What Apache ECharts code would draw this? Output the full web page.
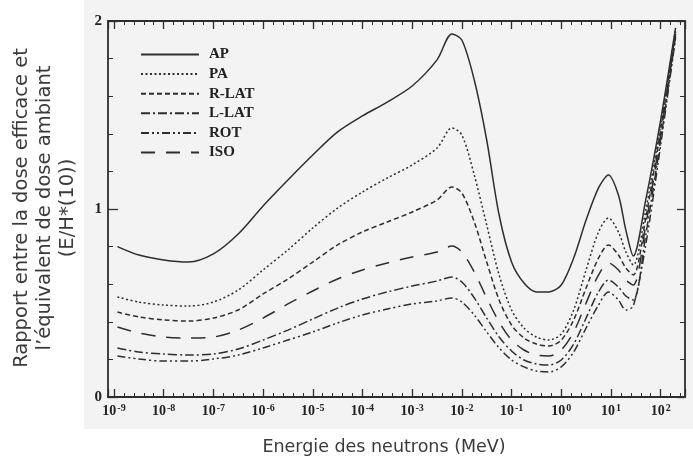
<!DOCTYPE html>
<html><head><meta charset="utf-8">
<script src="https://cdn.jsdelivr.net/npm/echarts@6/dist/echarts.min.js"></script>
<style>html,body{margin:0;padding:0;background:#fff}#c{width:693px;height:461px}</style>
</head><body><div id="c"></div>
<script>
// Energy of neutrons, as log10(E / MeV)
const log10Energy = [-8.93,-8.5,-8,-7.5,-7,-6.5,-6,-5.5,-5,-4.5,-4,-3.5,-3,-2.5,-2.2,-2,-1.75,-1.5,-1.25,-1,-0.75,-0.5,-0.25,0,0.25,0.5,0.75,0.95,1.15,1.3,1.45,1.7,2.0,2.3];
// E/H*(10) for each irradiation geometry
const AP    = [0.80,0.755,0.729,0.718,0.761,0.867,1.016,1.154,1.287,1.410,1.495,1.569,1.654,1.793,1.931,1.899,1.686,1.367,0.968,0.718,0.606,0.559,0.559,0.596,0.739,0.941,1.112,1.181,1.074,0.888,0.750,1.048,1.473,1.963];
const PA    = [0.532,0.505,0.489,0.484,0.505,0.569,0.676,0.782,0.899,1.005,1.090,1.165,1.234,1.324,1.431,1.394,1.181,0.915,0.649,0.463,0.367,0.319,0.303,0.335,0.463,0.676,0.878,0.952,0.878,0.771,0.702,0.995,1.447,1.952];
const RLAT  = [0.452,0.426,0.410,0.404,0.420,0.463,0.548,0.628,0.718,0.809,0.878,0.931,0.984,1.048,1.117,1.085,0.931,0.718,0.516,0.383,0.314,0.282,0.271,0.303,0.410,0.580,0.739,0.809,0.755,0.686,0.649,0.952,1.420,1.941];
const LLAT  = [0.261,0.239,0.229,0.223,0.229,0.255,0.303,0.356,0.415,0.473,0.521,0.559,0.590,0.617,0.638,0.612,0.527,0.420,0.319,0.245,0.197,0.176,0.170,0.197,0.282,0.420,0.559,0.622,0.585,0.537,0.516,0.862,1.367,1.920];
const ROT   = [0.218,0.202,0.191,0.191,0.202,0.223,0.261,0.303,0.346,0.394,0.436,0.468,0.495,0.511,0.527,0.505,0.436,0.346,0.261,0.197,0.160,0.138,0.133,0.160,0.239,0.367,0.489,0.559,0.516,0.463,0.484,0.809,1.340,1.910];
const ISO   = [0.372,0.340,0.319,0.314,0.319,0.356,0.420,0.495,0.564,0.628,0.676,0.713,0.745,0.771,0.803,0.771,0.665,0.527,0.399,0.303,0.250,0.223,0.218,0.250,0.346,0.500,0.649,0.713,0.676,0.622,0.596,0.915,1.394,1.931];
const seriesNames = ['AP','PA','R-LAT','L-LAT','ROT','ISO'];
const xDecadeExponents = [-9,-8,-7,-6,-5,-4,-3,-2,-1,0,1,2];
const yTickLabels = ['0','1','2'];
const xTitle = 'Energie des neutrons (MeV)';
const yTitle = 'Rapport entre la dose efficace et\nl\u2019\u00e9quivalent de dose ambiant\n(E/H*(10))';

const INK = '#2e2e2e';
const dashes = {
  'AP': 'solid',
  'PA': [2, 2.5],
  'R-LAT': [5, 3],
  'L-LAT': [9, 3, 2, 3],
  'ROT': [8, 3, 2, 3, 2, 3],
  'ISO': [14, 11]
};
const valuesByName = {'AP':AP,'PA':PA,'R-LAT':RLAT,'L-LAT':LLAT,'ROT':ROT,'ISO':ISO};

const X_MIN = -9.12, X_MAX = 2.49;
// mirrored frame axes (top / right) only carry ticks
const FRAME_SHIFT_X = 10, FRAME_SHIFT_Y = 10;
function xLabel(v){
  const r = Math.round(v);
  if (Math.abs(v - r) > 1e-6 || xDecadeExponents.indexOf(r) < 0) return '';
  return '{b|10}{s|' + (r < 0 ? '-' + (-r) : r) + '}';
}
function yLabel(v){
  const r = Math.round(v);
  if (Math.abs(v - r) > 1e-6) return '';
  return yTickLabels[r] !== undefined ? yTickLabels[r] : '';
}
const serif = 'Liberation Serif';
const axisLine = {show: true, onZero: false, lineStyle: {color: INK, width: 1.8}};
const majorTick = function(len){ return {show: true, inside: true, length: len, lineStyle: {color: INK, width: 1.3}}; };
const minorTick = function(len){ return {show: true, splitNumber: 5, length: len, lineStyle: {color: INK, width: 1}}; };

const chart = echarts.init(document.getElementById('c'), null, {renderer: 'canvas'});
chart.setOption({
  animation: false,
  backgroundColor: '#ffffff',
  graphic: [
    {type: 'rect', z: -10, silent: true, shape: {x: 84, y: 0, width: 609, height: 429}, style: {fill: '#f3f3f3'}},
    {type: 'text', silent: true, x: 45, y: 208, rotation: Math.PI / 2,
     style: {text: yTitle, fontFamily: 'DejaVu Sans', fontSize: 19.5, lineHeight: 23, fill: '#3a3a3a', align: 'center', verticalAlign: 'middle'}},
    {type: 'text', silent: true, x: 384, y: 447,
     style: {text: xTitle, fontFamily: 'DejaVu Sans', fontSize: 17.5, fill: '#3a3a3a', align: 'center', verticalAlign: 'middle'}}
  ],
  grid: {left: 108, right: 8, top: 21, bottom: 64},
  legend: {
    orient: 'vertical', left: 135, top: 42,
    itemWidth: 58, itemHeight: 14, itemGap: 4.6,
    data: seriesNames,
    itemStyle: {color: 'rgba(0,0,0,0)', borderColor: 'rgba(0,0,0,0)', borderWidth: 0, opacity: 0},
    textStyle: {fontFamily: serif, fontWeight: 'bold', fontSize: 15, color: '#222', padding: [0,0,0,5]}
  },
  xAxis: [{
    type: 'value', position: 'bottom', min: X_MIN, max: X_MAX, splitNumber: 11,
    axisLine: axisLine,
    axisTick: majorTick(8),
    minorTick: minorTick(4),
    splitLine: {show: false},
    axisLabel: {
      margin: 6, showMinLabel: false, showMaxLabel: false, formatter: xLabel,
      rich: {
        b: {fontFamily: serif, fontWeight: 'bold', fontSize: 14, color: '#222'},
        s: {fontFamily: serif, fontWeight: 'bold', fontSize: 10, color: '#222', verticalAlign: 'top', padding: [0,0,6,1]}
      }
    }
  }, {
    type: 'value', position: 'top', min: X_MIN + FRAME_SHIFT_X, max: X_MAX + FRAME_SHIFT_X, splitNumber: 11,
    axisLine: axisLine,
    axisTick: majorTick(8),
    minorTick: minorTick(4),
    splitLine: {show: false}, axisLabel: {show: false}
  }],
  yAxis: [{
    type: 'value', position: 'left', min: 0, max: 2, interval: 1,
    axisLine: axisLine,
    axisTick: majorTick(10),
    minorTick: minorTick(5),
    splitLine: {show: false},
    axisLabel: {margin: 6, formatter: yLabel, fontFamily: serif, fontWeight: 'bold', fontSize: 15, color: '#222'}
  }, {
    type: 'value', position: 'right', min: FRAME_SHIFT_Y, max: 2 + FRAME_SHIFT_Y, interval: 1,
    axisLine: axisLine,
    axisTick: majorTick(8),
    minorTick: minorTick(5),
    splitLine: {show: false}, axisLabel: {show: false}
  }],
  series: seriesNames.map(function(n){
    return {
      name: n, type: 'line', xAxisIndex: 0, yAxisIndex: 0,
      data: log10Energy.map(function(e, i){ return [e, valuesByName[n][i]]; }),
      symbol: 'none', smooth: 0.3,
      lineStyle: {color: INK, width: 1.5, type: dashes[n]},
      itemStyle: {color: INK}
    };
  })
});
</script></body></html>
